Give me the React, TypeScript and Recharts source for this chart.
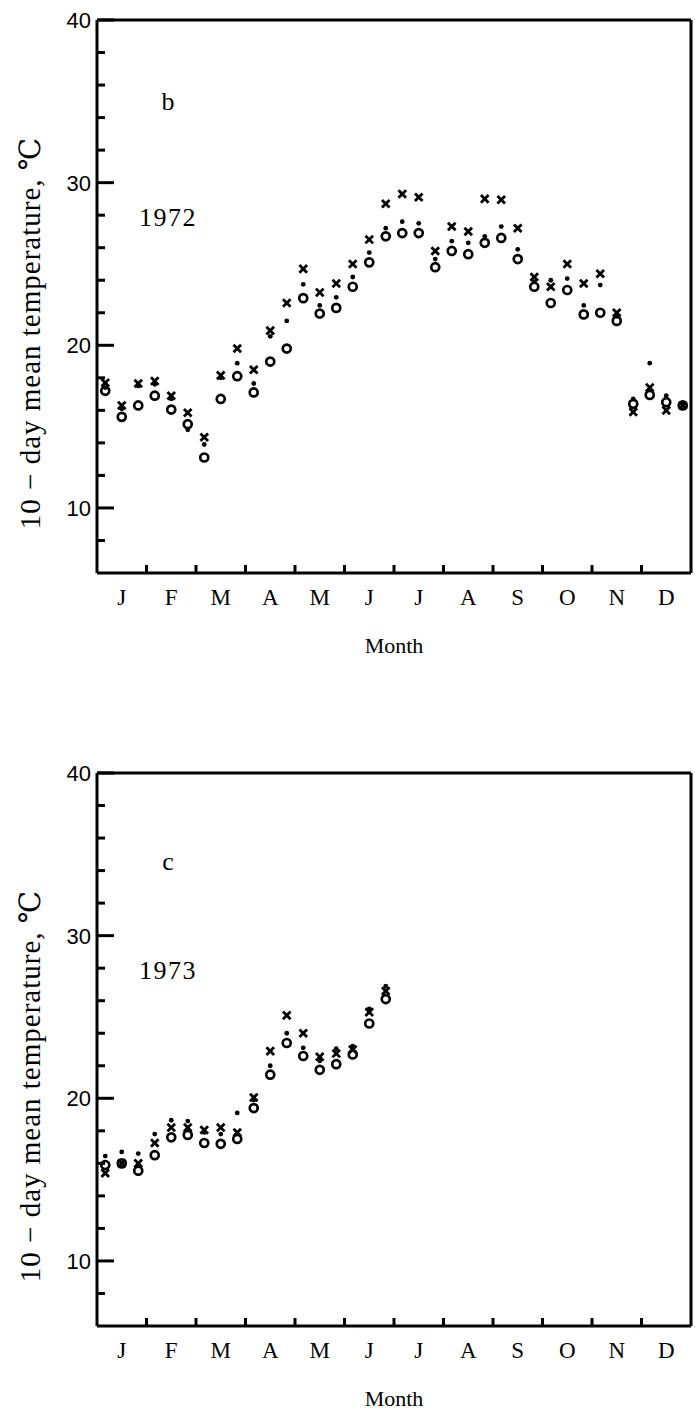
import React from "react";
import { ScatterChart, Scatter, XAxis, YAxis } from "recharts";

// month initials, one per 3 ten-day periods
const months = ["J", "F", "M", "A", "M", "J", "J", "A", "S", "O", "N", "D"];
const yTicks = [8, 10, 12, 14, 16, 18, 20, 22, 24, 26, 28, 30, 32, 34, 36, 38, 40];
const monthBounds = [3, 6, 9, 12, 15, 18, 21, 24, 27, 30, 33];

// 1972 (panel b), 36 ten-day means
const open1972 = [
  17.2, 15.6, 16.3, 16.9, 16.05, 15.15, 13.1, 16.7, 18.1, 17.1, 19.0, 19.8,
  22.9, 21.95, 22.3, 23.6, 25.1, 26.7, 26.9, 26.9, 24.8, 25.8, 25.6, 26.3,
  26.6, 25.3, 23.6, 22.6, 23.4, 21.9, 22.0, 21.5, 16.4, 16.95, 16.5, 16.3,
];
const dot1972 = [
  17.4, 16.1, 17.5, 17.6, 16.7, 14.8, 13.9, 18.0, 18.9, 17.65, 20.55, 21.5,
  23.75, 22.45, 22.95, 24.2, 25.7, 27.2, 27.6, 27.5, 25.3, 26.4, 26.3, 26.7,
  27.3, 25.9, 23.9, 24.0, 24.1, 22.45, 23.7, 21.8, 16.7, 18.9, 16.9, 16.4,
];
const cross1972 = [
  17.7, 16.3, 17.65, 17.8, 16.9, 15.85, 14.35, 18.15, 19.8, 18.5, 20.9, 22.6,
  24.7, 23.25, 23.8, 25.0, 26.5, 28.7, 29.3, 29.1, 25.8, 27.3, 27.0, 29.0,
  28.95, 27.2, 24.2, 23.6, 25.0, 23.8, 24.4, 22.0, 15.9, 17.4, 16.0, 16.3,
];

// 1973 (panel c), January to June only
const open1973 = [
  15.9, 16.0, 15.55, 16.5, 17.6, 17.75, 17.25, 17.2, 17.5, 19.4, 21.45, 23.4,
  22.6, 21.75, 22.1, 22.7, 24.6, 26.1,
];
const dot1973 = [
  16.45, 16.7, 16.6, 17.8, 18.65, 18.6, 17.9, 17.8, 19.1, 19.9, 22.0, 24.0,
  23.1, 22.3, 23.05, 23.2, 25.5, 26.9,
];
const cross1973 = [
  15.4, 16.0, 16.0, 17.25, 18.2, 18.2, 18.05, 18.2, 17.9, 20.05, 22.9, 25.1,
  24.0, 22.55, 22.75, 23.0, 25.3, 26.6,
];

const SERIF = '"Liberation Serif", "DejaVu Serif", "Times New Roman", serif';
const SANS = '"Liberation Sans", Arial, sans-serif';
const INK = "#000";

const labelTicks = months.map((_, k) => 3 * k + 1.5);
const bottomTicks = [...labelTicks, ...monthBounds].sort((a, b) => a - b);

const toPoints = (vals: number[]) => vals.map((y, i) => ({ x: i + 0.5, y }));

function BottomTick(props: any) {
  const { x, y, payload } = props;
  const v = payload.value;
  if (v % 3 === 0) {
    return <line x1={x} x2={x} y1={y} y2={y - 8} stroke={INK} strokeWidth={3} />;
  }
  return (
    <text x={x} y={y + 32} textAnchor="middle" fontFamily={SERIF} fontSize={23} fill={INK}>
      {months[Math.floor(v / 3)]}
    </text>
  );
}

function TopTick(props: any) {
  const { x, y } = props;
  return <line x1={x} x2={x} y1={y} y2={y + 7} stroke={INK} strokeWidth={3} />;
}

function LeftTick(props: any) {
  const { x, y, payload } = props;
  const v = payload.value;
  const major = v % 10 === 0;
  return (
    <g>
      <line x1={x} x2={x + (major ? 17 : 8)} y1={y} y2={y} stroke={INK} strokeWidth={3} />
      {major && (
        <text x={x - 6} y={y} dy="0.36em" textAnchor="end" fontFamily={SANS} fontSize={22} fill={INK}>
          {v}
        </text>
      )}
    </g>
  );
}

function RightTick(props: any) {
  const { x, y, payload } = props;
  const major = payload.value % 10 === 0;
  return <line x1={x} x2={x - (major ? 12 : 5)} y1={y} y2={y} stroke={INK} strokeWidth={3} />;
}

const Ring = (p: any) => (
  <circle cx={p.cx} cy={p.cy} r={4} fill="none" stroke={INK} strokeWidth={2.7} />
);
const Dot = (p: any) => <circle cx={p.cx} cy={p.cy} r={2.4} fill={INK} />;
const Cross = (p: any) => {
  const { cx, cy } = p;
  const d = 3.8;
  return (
    <path
      d={`M${cx - d},${cy - d}L${cx + d},${cy + d}M${cx + d},${cy - d}L${cx - d},${cy + d}`}
      stroke={INK}
      strokeWidth={2.8}
    />
  );
};

type PanelProps = {
  top: number;
  height: number;
  letter: string;
  letterY: number;
  year: string;
  open: number[];
  dots: number[];
  crosses: number[];
};

function Panel({ top, height, letter, letterY, year, open, dots, crosses }: PanelProps) {
  // plot box: x 97..691, y 20..573 (axes get 1px so that recharts draws them)
  const axisLine = { stroke: INK, strokeWidth: 3 };
  return (
    <div style={{ position: "absolute", left: 0, top, width: 695, height }}>
      <ScatterChart
        width={695}
        height={height}
        margin={{ top: 19, right: 3, bottom: height - 574, left: 96 }}
      >
        <XAxis
          xAxisId="b"
          type="number"
          dataKey="x"
          domain={[0, 36]}
          ticks={bottomTicks}
          interval={0}
          height={1}
          tickSize={0}
          tickMargin={0}
          tickLine={false}
          axisLine={axisLine}
          tick={<BottomTick />}
        />
        <XAxis
          xAxisId="t"
          orientation="top"
          type="number"
          domain={[0, 36]}
          ticks={monthBounds}
          interval={0}
          height={1}
          tickSize={0}
          tickMargin={0}
          tickLine={false}
          axisLine={axisLine}
          tick={<TopTick />}
        />
        <YAxis
          yAxisId="l"
          type="number"
          dataKey="y"
          domain={[6, 40]}
          ticks={yTicks}
          interval={0}
          width={1}
          tickSize={0}
          tickMargin={0}
          tickLine={false}
          axisLine={axisLine}
          tick={<LeftTick />}
        />
        <YAxis
          yAxisId="r"
          orientation="right"
          type="number"
          domain={[6, 40]}
          ticks={yTicks}
          interval={0}
          width={1}
          tickSize={0}
          tickMargin={0}
          tickLine={false}
          axisLine={axisLine}
          tick={<RightTick />}
        />
        <Scatter xAxisId="b" yAxisId="l" data={toPoints(crosses)} shape={Cross} isAnimationActive={false} />
        <Scatter xAxisId="b" yAxisId="l" data={toPoints(dots)} shape={Dot} isAnimationActive={false} />
        <Scatter xAxisId="b" yAxisId="l" data={toPoints(open)} shape={Ring} isAnimationActive={false} />
        <text x={168} y={letterY} textAnchor="middle" fontFamily={SERIF} fontSize={26} fill={INK}>
          {letter}
        </text>
        <text x={139} y={226} fontFamily={SERIF} fontSize={26} letterSpacing={1.5} fill={INK}>
          {year}
        </text>
        <text
          x={30}
          y={333}
          dy="0.35em"
          transform="rotate(-90 30 333)"
          textAnchor="middle"
          fontFamily={SERIF}
          fontSize={29}
          letterSpacing={1}
          fill={INK}
        >
          10 − day mean temperature, ℃
        </text>
        <text x={394} y={653} textAnchor="middle" fontFamily={SERIF} fontSize={22} fill={INK}>
          Month
        </text>
      </ScatterChart>
    </div>
  );
}

export default function App() {
  return (
    <div style={{ position: "absolute", left: 0, top: 0, width: 695, height: 1410, background: "#fff" }}>
      <Panel top={0} height={700} letter="b" letterY={110} year="1972" open={open1972} dots={dot1972} crosses={cross1972} />
      <Panel top={753} height={657} letter="c" letterY={117} year="1973" open={open1973} dots={dot1973} crosses={cross1973} />
    </div>
  );
}
